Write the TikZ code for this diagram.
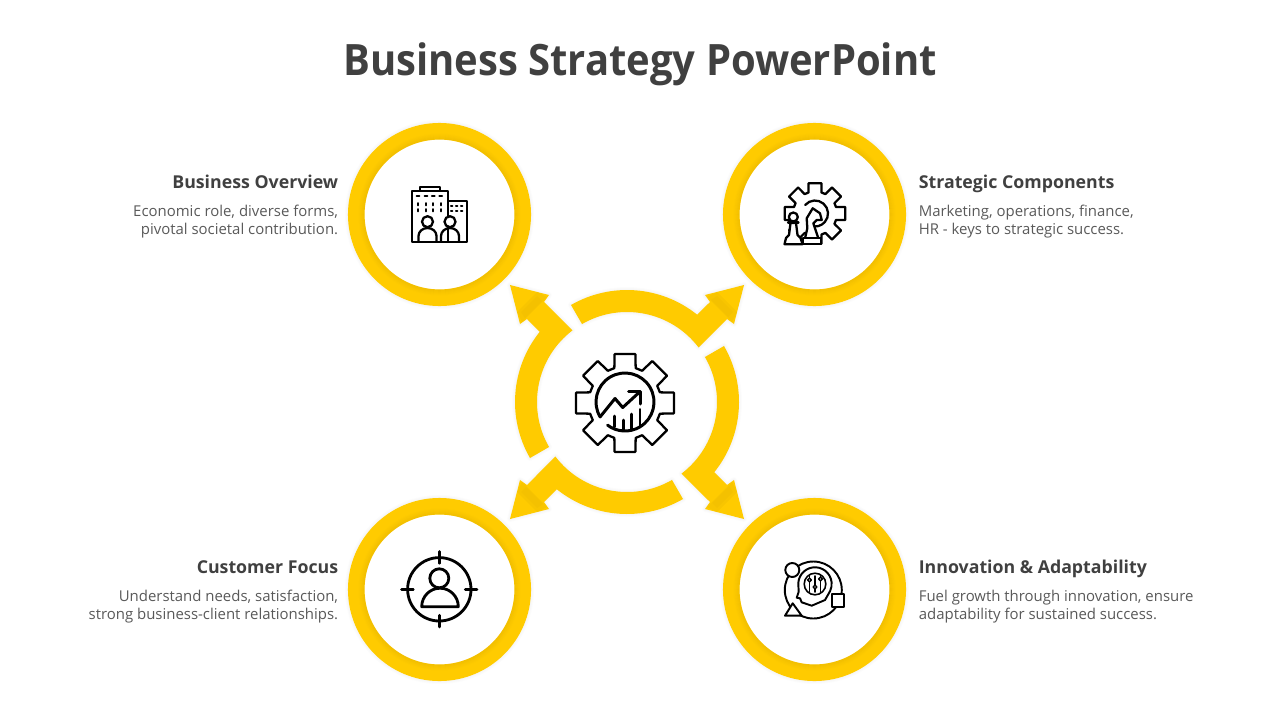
\documentclass[tikz,border=0pt]{standalone}
\usepackage{fontspec}
\setmainfont{Open Sans}
\newfontfamily\titlefont[FakeStretch=0.925]{Open Sans}
\usepackage{xcolor}
\definecolor{ringyellow}{HTML}{FFCB00}
\definecolor{ringdark}{HTML}{C89A00}
\definecolor{titlegray}{HTML}{404040}
\definecolor{bodygray}{HTML}{595959}

\tikzset{
  ringbox/.style={circle, draw=ringyellow, fill=white, line width=9.45pt, minimum size=3.33cm, inner sep=0pt, outer sep=0pt},
  iconline/.style={draw=black, line width=1.3pt, line join=round, line cap=round},
  headtext/.style={font=\fontsize{10.1}{12}\selectfont\bfseries, text=titlegray, inner sep=0pt},
  bodytext/.style={font=\fontsize{8.5}{10.6}\selectfont, text=bodygray, inner sep=0pt},
}

% gear outline: centre, root radius, tip radius
\newcommand{\drawgear}[3]{
  \begin{scope}[shift={(#1)}]
    \draw[iconline, fill=white] (-107:#2) \foreach \t in {-90,-45,...,225} {
      -- ({\t-17}:#2) -- ({\t-12}:#3) -- ({\t+12}:#3) -- ({\t+17}:#2)} -- cycle;
  \end{scope}
}

% one arc with its arrow head
\newcommand{\arrowpath}{(-120:112) arc [start angle=-120, end angle=-51.2, radius=112]
  -- (83,-100) -- (78,-107) -- (117,-117) -- (107,-78) -- (100,-83)
  -- (-37.3:90) arc [start angle=-37.3, end angle=-120, radius=90] -- cycle}

\begin{document}
\begin{tikzpicture}[x=0.02cm, y=0.02cm, yscale=-1]
  \useasboundingbox (0,0) rectangle (1280,720);

  \node[font=\titlefont\fontsize{24.6}{30}\selectfont\bfseries, text=titlegray, inner sep=0pt, anchor=base] (title) at (640,75) {Business Strategy PowerPoint};

  % Outer rings
  \foreach \nm/\px/\py in {overview/439.5/214.5, components/814.5/214.5, focus/439.5/589.5, innovation/814.5/589.5} {
    \foreach \w in {2,4,6}
      \draw[black, opacity=0.012, line width=\w*0.567pt] (\px,\py) circle [radius=91.6];
    \node[ringbox] (\nm) at (\px,\py) {};
    \foreach \r/\o in {75.5/0.20, 76.5/0.16, 77.5/0.12, 78.5/0.08, 79.5/0.05, 80.5/0.02}
      \draw[ringdark, opacity=\o, line width=0.6pt] (\px,\py) circle [radius=\r];
  }

  % Centre arrows
  \foreach \ang in {0,90,180,270} {
    \begin{scope}[shift={(627,402)}, rotate=\ang]
      \foreach \w in {2,4,6}
        \draw[black, opacity=0.012, line width=\w*0.567pt, line join=round] \arrowpath;
      \fill[ringyellow] \arrowpath;
      \fill[ringdark, opacity=0.12] (80,-105) -- (105,-80) -- (110,-90) -- (90,-110) -- cycle;
      \fill[ringdark, opacity=0.08] (84,-102) -- (101,-85) -- (106,-90) -- (90,-106) -- cycle;
    \end{scope}
  }

  % Centre icon
  \drawgear{625,403}{36.5}{50}
  \draw[iconline, line width=1.7pt] (625,402) ++(149:29) arc [start angle=149, end angle=487, radius=29];
  \draw[iconline, line width=1.7pt] (600,417) -- (615,398.5) -- (622.7,407.5) -- (638.5,393);
  \draw[iconline, line width=1.7pt] (628.5,391.7) -- (640.7,391.7) -- (640.7,404);
  \foreach \bx/\bt/\bb in {614.3/416/427, 623.3/420/430, 631.7/414/430, 640/409.3/426}
    \draw[iconline, line width=1.5pt] (\bx,\bt) -- (\bx,\bb);

  % Building icon
  \draw[iconline] (448.3,241.7) -- (411.7,241.7) -- (411.7,190.7) -- (448.3,190.7) -- (448.3,241.7);
  \draw[iconline] (420,190.7) -- (420,186.7) -- (440,186.7) -- (440,190.7);
  \draw[iconline] (448.3,201) -- (466.7,201) -- (466.7,241.7) -- (448.3,241.7);
  \foreach \wx in {418,426,433.3,440.7} {
    \draw[iconline, line width=1pt] (\wx-1.5,196) -- (\wx+1.5,196);
    \draw[iconline, line width=1pt] (\wx,203) -- (\wx,205.5);
    \draw[iconline, line width=1pt] (\wx,209) -- (\wx,211.5);
  }
  \foreach \wx in {451.7,456.7,461.7} {
    \draw[iconline, line width=1pt] (\wx-0.8,205.7) -- (\wx+0.8,205.7);
    \draw[iconline, line width=1pt] (\wx-0.8,211) -- (\wx+0.8,211);
  }
  \draw[iconline, fill=white] (427.5,221.7) circle [radius=5.5];
  \draw[iconline, fill=white] (450,221.7) circle [radius=5.5];
  \draw[iconline] (418.5,241.7) -- (418.5,236) arc [start angle=180, end angle=360, x radius=9, y radius=8] -- (436.5,241.7);
  \draw[iconline] (441,241.7) -- (441,236) arc [start angle=180, end angle=360, x radius=9, y radius=8] -- (459,241.7);

  % Chess icon
  \drawgear{815,213.5}{22}{31}
  \draw[iconline] (815,213.5) ++(221:13) arc [start angle=221, end angle=470, radius=13];
  \draw[iconline, fill=white] (805,238.3) -- (807.3,228.3) -- (806.7,218.3) -- (812.7,208.3) -- (820,213.3) -- (821.7,220) -- (816.7,220) -- (813.3,223.3) -- (818.3,238.3) -- cycle;
  \draw[iconline, fill=white] (803,244.2) -- (803,238.3) -- (821,238.3) -- (821,244.2) -- cycle;
  \draw[iconline, fill=white] (790.5,223) -- (789,235) -- (786,238) -- (784.5,244.2) -- (802.5,244.2) -- (800.5,238) -- (797.5,235) -- (796,223) -- cycle;
  \draw[iconline, fill=white] (793.3,217) circle [radius=4.5];
  \draw[iconline] (788,222.5) -- (798.5,222.5);

  % Target icon
  \draw[iconline, line width=1.6pt] (439.3,589.3) circle [radius=31.7];
  \foreach \dx/\dy in {1/0,-1/0,0/1,0/-1}
    \draw[iconline, line width=1.6pt] (439.3+26*\dx,589.3+26*\dy) -- (439.3+37.7*\dx,589.3+37.7*\dy);
  \draw[iconline, line width=1.6pt] (439.3,578.3) circle [radius=9.5];
  \draw[iconline, line width=1.6pt] (421.7,606.7) arc [start angle=180, end angle=360, x radius=18.3, y radius=18.5] -- cycle;

  % Head icon
  \draw[iconline, line width=1.1pt] (813.3,590) circle [radius=28.5];
  \draw[iconline, line width=1.1pt, fill=white] (792.3,570) circle [radius=7];
  \draw[iconline, line width=1.1pt, fill=white] (785,615.7) -- (801.7,615.7) -- (792.7,603.3) -- cycle;
  \draw[iconline, line width=1.1pt, fill=white] (831.7,594) rectangle (844.3,606.7);
  \draw[iconline, line width=1.1pt] (811.7,605.7) -- (801.7,602.3) -- (800,598.3) -- (796.7,597.7) -- (798.7,591.7) -- (798.4,586) arc [start angle=173, end angle=385, radius=16.7] -- (825,600) -- (811.7,605.7);
  \draw[iconline, line width=0.9pt] (815,584) circle [radius=10.8];
  \foreach \sx/\sy in {809.5/580, 815/587, 820.5/579} {
    \draw[iconline, line width=0.9pt] (\sx,576) -- (\sx,592);
    \draw[iconline, line width=0.8pt, fill=white] (\sx,\sy) circle [radius=1.8];
  }

  % Labels
  \node[headtext, anchor=base east] (overviewhead) at (338.5,188) {Business Overview};
  \node[bodytext, anchor=north east, align=right] (overviewbody) at (338.5,204.5) {Economic role, diverse forms,\\pivotal societal contribution.};
  \node[headtext, anchor=base west] (componentshead) at (918.5,188) {Strategic Components};
  \node[bodytext, anchor=north west, align=left] (componentsbody) at (918.5,204.5) {Marketing, operations, finance,\\HR - keys to strategic success.};
  \node[headtext, anchor=base east] (focushead) at (338.5,573) {Customer Focus};
  \node[bodytext, anchor=north east, align=right] (focusbody) at (338.5,589.5) {Understand needs, satisfaction,\\strong business-client relationships.};
  \node[headtext, anchor=base west] (innovationhead) at (918.5,573) {Innovation \& Adaptability};
  \node[bodytext, anchor=north west, align=left] (innovationbody) at (918.5,589.5) {Fuel growth through innovation, ensure\\adaptability for sustained success.};
\end{tikzpicture}
\end{document}
